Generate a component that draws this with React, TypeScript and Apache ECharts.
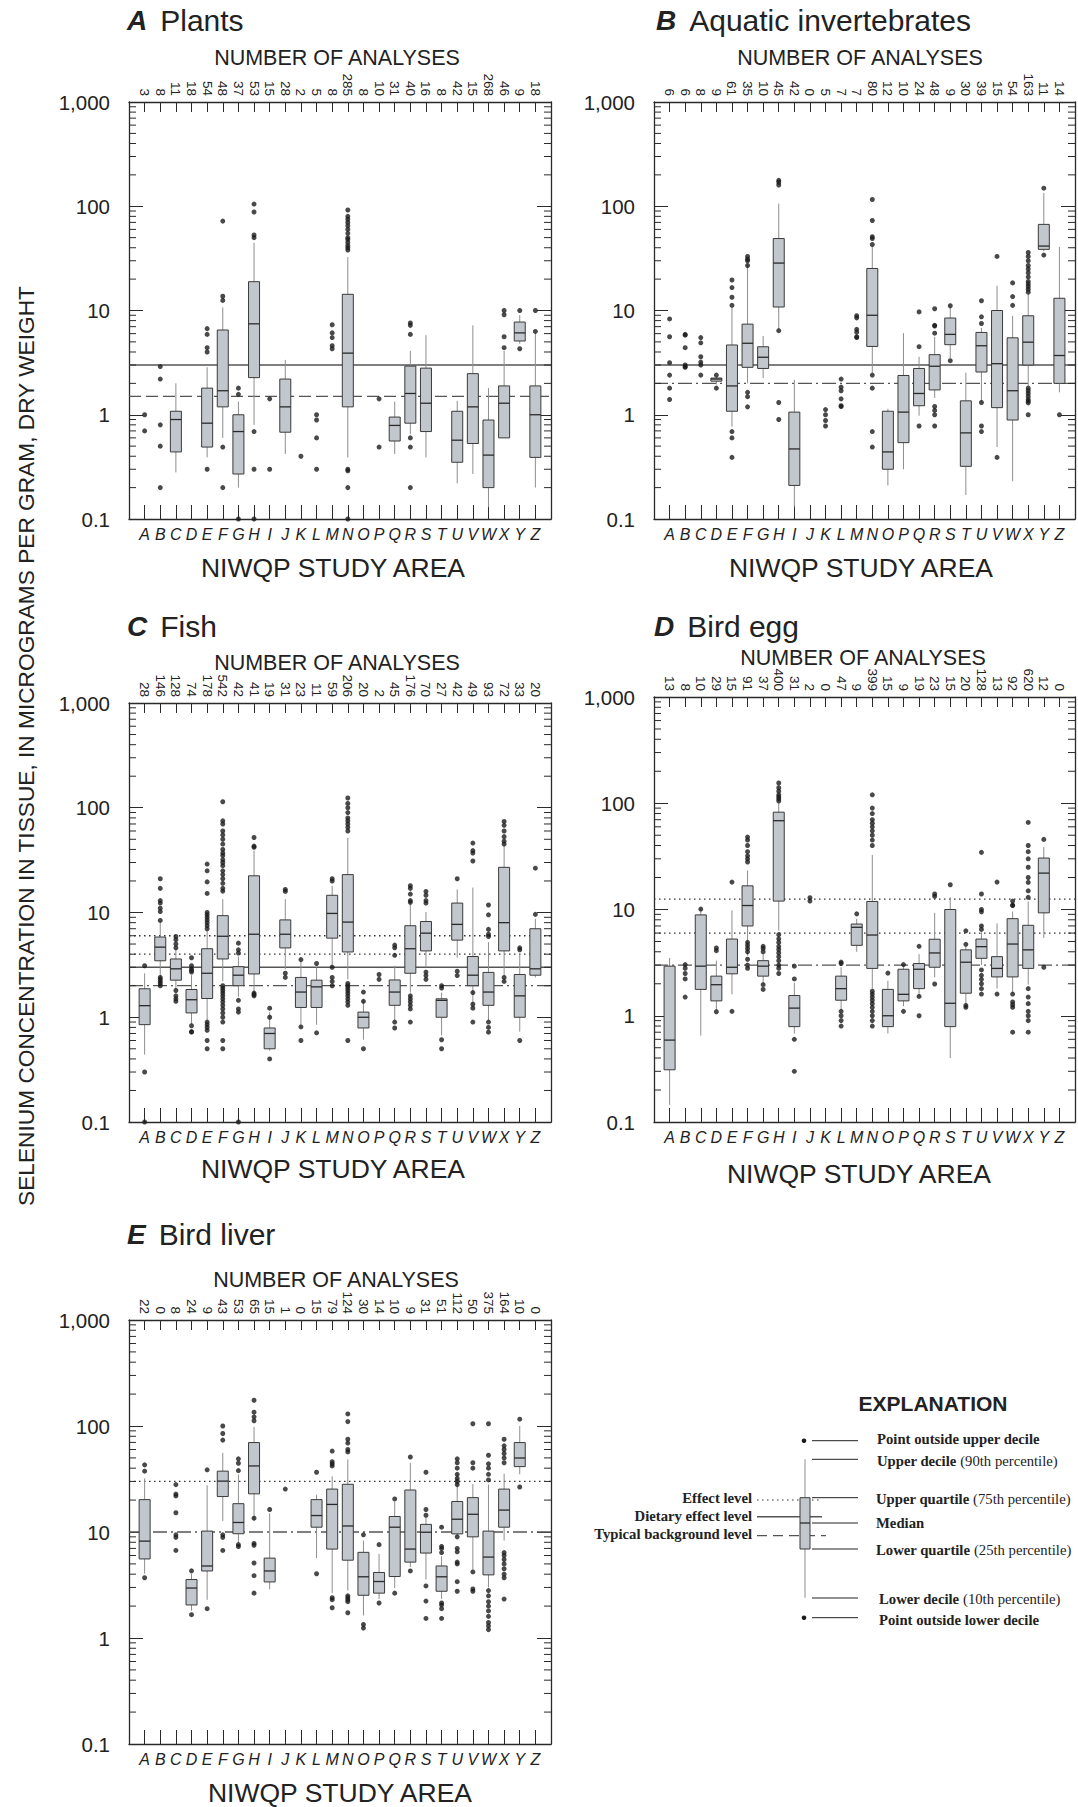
import React, { useEffect, useRef } from "react";
import * as echarts from "echarts";

// ---------------- DATA ----------------
const areaLetters = ["A","B","C","D","E","F","G","H","I","J","K","L","M","N","O","P","Q","R","S","T","U","V","W","X","Y","Z"];
const yTickLabels = ["0.1", "1", "10", "100", "1,000"];
const minorTickValues = [0.2,0.3,0.4,0.5,0.6,0.7,0.8,0.9,2,3,4,5,6,7,8,9,20,30,40,50,60,70,80,90,200,300,400,500,600,700,800,900];

// box = [lower decile, lower quartile, median, upper quartile, upper decile]
const plantsCounts = [3, 8, 11, 18, 54, 48, 37, 53, 15, 28, 2, 5, 8, 285, 8, 10, 31, 40, 16, 8, 42, 15, 268, 46, 9, 18];
const plantsBoxes = [
  null, null, [0.28, 0.44, 0.9, 1.08, 2.0], null, [0.39, 0.49, 0.83, 1.8, 2.86],
  [0.6, 1.19, 1.7, 6.5, 10.7], [0.2, 0.27, 0.69, 1.0, 1.34], [0.8, 2.27, 7.45, 18.9, 44.7], null, [0.42, 0.68, 1.19, 2.2, 3.36],
  null, null, null, [0.39, 1.19, 3.9, 14.3, 32.5], null,
  null, [0.42, 0.56, 0.79, 0.95, 1.34], [0.65, 0.83, 1.6, 2.93, 4.1], [0.39, 0.69, 1.29, 2.8, 5.8], null,
  [0.22, 0.35, 0.57, 1.08, 1.36], [0.27, 0.53, 1.19, 2.48, 7.2], [0.13, 0.2, 0.41, 0.89, 1.8], [0.6, 0.6, 1.29, 1.89, 4.1], [4.8, 5.1, 6.1, 7.75, 9.0],
  [0.2, 0.39, 1.0, 1.89, 6.1]
];
const plantsOutliers = [
  [1.0, 0.7], [2.9, 2.2, 0.8, 0.5, 0.2], [], [], [6.7, 5.9, 4.4, 4.0, 0.3],
  [72, 13.7, 12.5, 0.49, 0.2], [1.8, 1.57, 0.1], [105, 88, 53, 50, 0.69, 0.3, 0.1], [1.42, 0.3], [],
  [0.4], [1.0, 0.89, 0.6, 0.3], [7.3, 6.1, 5.5, 4.6, 4.3],
  [92, 80, 75, 70, 65, 60, 55, 50, 48, 45, 42, 40, 38, 0.3, 0.29, 0.2, 0.1], [],
  [1.42, 0.49], [], [7.6, 7.2, 5.9, 0.6, 0.49, 0.2], [], [],
  [], [], [], [10, 9.1, 5.6, 4.4], [10, 4.3], [10, 6.3]
];
const plantsLevels = [3, 1.5];
const plantsLevelTypes = ["solid", "longdash"];

const invertCounts = [6, 6, 8, 9, 61, 35, 10, 45, 42, 0, 5, 7, 7, 80, 12, 10, 24, 48, 9, 30, 39, 15, 54, 163, 11, 14];
const invertBoxes = [
  null, null, null, [1.95, 2.1, 2.2, 2.25, 2.3], [0.77, 1.08, 1.89, 4.67, 10.6],
  [2.0, 2.85, 4.85, 7.4, 27.4], [2.25, 2.78, 3.56, 4.49, 5.7], [6.6, 10.8, 28.5, 49, 106], [0.13, 0.21, 0.47, 1.06, 2.16], null,
  null, null, null, [2.53, 4.52, 9.0, 25.3, 40.8], [0.21, 0.3, 0.44, 1.08, 1.14],
  [0.3, 0.54, 1.06, 2.38, 6.06], [0.98, 1.22, 1.6, 2.78, 3.6], [1.45, 1.73, 2.92, 3.77, 5.6], [3.5, 4.7, 5.9, 8.47, 10.6], [0.17, 0.32, 0.67, 1.36, 2.53],
  [1.34, 2.57, 4.59, 6.16, 6.8], [0.49, 1.17, 3.09, 10, 17.3], [0.23, 0.89, 1.7, 5.47, 8.9], [1.9, 3.0, 4.97, 8.9, 14.5], [37, 38.6, 41.5, 67, 134],
  [1.64, 2.0, 3.7, 13.1, 40.8]
];
const invertOutliers = [
  [8.3, 5.6, 3.16, 2.4, 1.8, 1.4], [5.9, 5.8, 4.4, 3.0, 2.9, 2.85], [5.5, 4.9, 3.6, 3.2, 3.0, 2.4], [2.4, 1.8], [19.6, 16.6, 13.4, 11.2, 0.69, 0.6, 0.39],
  [33, 31, 30, 27, 1.64, 1.49, 1.19], [], [177, 170, 160, 6.4, 1.31, 0.9], [], [],
  [1.12, 1.0, 0.88, 0.78], [2.2, 1.84, 1.7, 1.42, 1.22, 1.2], [8.9, 8.5, 6.6, 6.2, 5.6, 5.5], [116, 73, 51, 49, 43, 2.4, 1.8, 0.69, 0.49], [],
  [], [9.7, 4.5, 0.78], [10.4, 7.2, 7.1, 6.06, 1.2, 1.1, 1.0, 0.78], [11.1, 3.3], [],
  [12.4, 8.7, 7.5, 1.31, 0.78, 0.69], [33, 0.39], [18.4, 13.6, 11.2],
  [36, 33, 30, 27, 25, 23, 21, 19, 18, 17, 16, 15, 1.8, 1.7, 1.6, 1.5, 1.4, 1.35, 1.3, 1.0], [149, 34], [1.0]
];
const invertLevels = [3, 2];
const invertLevelTypes = ["solid", "dashed"];

const fishCounts = [28, 146, 128, 74, 178, 542, 42, 41, 19, 31, 23, 11, 59, 206, 20, 2, 45, 176, 70, 27, 42, 49, 93, 72, 33, 20];
const fishBoxes = [
  [0.44, 0.85, 1.29, 1.87, 2.63], [2.4, 3.46, 4.67, 5.83, 8.1], [1.87, 2.26, 2.9, 3.6, 4.4], [0.86, 1.1, 1.47, 1.84, 2.52], [0.94, 1.51, 2.63, 4.51, 6.7],
  [2.2, 3.6, 5.93, 9.33, 13.4], [1.57, 2.0, 2.52, 3.04, 3.8], [1.72, 2.59, 6.2, 22.4, 39], [0.48, 0.5, 0.7, 0.79, 1.12], [2.87, 4.59, 6.2, 8.5, 13.4],
  [0.86, 1.24, 1.74, 2.4, 3.4], [0.85, 1.24, 1.95, 2.26, 2.99], [3.1, 5.69, 9.8, 14.6, 18], [2.3, 4.2, 8.1, 23, 51.5], [0.61, 0.79, 1.0, 1.12, 1.5],
  null, [0.94, 1.3, 1.74, 2.27, 3.1], [1.72, 2.63, 4.51, 7.48, 12.3], [3.0, 4.3, 6.35, 8.2, 10.1], [0.67, 1.0, 1.45, 1.5, 1.72],
  [3.7, 5.45, 7.7, 12.3, 16.6], [1.33, 2.0, 2.52, 3.8, 17.3], [0.93, 1.3, 1.74, 2.68, 5.2], [2.52, 4.3, 8.0, 27, 43.6], [0.73, 1.0, 1.6, 2.56, 4.0],
  [2.4, 2.52, 2.9, 7.0, 8.7]
];
const fishOutliers = [
  [3.1, 0.3, 0.1], [21, 17, 13, 12.3, 11, 10.2, 8.4, 2.4, 2.3, 2.2, 2.1, 2.0], [5.9, 5.5, 5.0, 4.6, 1.8, 1.6, 1.5, 1.42], [3.7, 3.1, 2.9, 2.8, 2.7, 0.83, 0.73, 0.72],
  [29, 25, 19.6, 15.2, 10, 9.5, 9, 8.5, 8, 7.5, 7, 0.9, 0.85, 0.8, 0.75, 0.6, 0.5],
  [114, 75, 70, 60, 55, 50, 45, 40, 37, 35, 32, 30, 28, 25, 23, 21, 19, 17, 16, 2.0, 1.9, 1.8, 1.7, 1.6, 1.5, 1.4, 1.3, 1.2, 1.1, 1.0, 0.9, 0.6, 0.5],
  [5.1, 4.4, 4.1, 1.45, 1.2, 1.12, 0.1], [52, 43, 42, 1.7, 1.65, 1.6], [1.22, 1.0, 0.4], [16.6, 15.9, 2.63, 2.4],
  [3.55, 0.81, 0.6], [3.26, 0.71], [21, 20, 3.0, 2.4, 2.2, 2.0],
  [124, 110, 100, 90, 80, 75, 70, 65, 60, 2.1, 2.0, 1.9, 1.8, 1.7, 1.6, 1.5, 1.4, 1.3, 0.6], [1.74, 1.42, 0.5],
  [2.56, 2.3], [4.88, 4.6, 3.9, 0.9, 0.79], [18, 17, 15, 13, 12.5, 1.6, 1.5, 1.4, 1.3, 1.2, 0.9], [15.9, 14.6, 13, 12.3, 2.7, 2.5, 2.3], [2.0, 1.9, 0.61, 0.5],
  [21, 2.75, 2.5], [46, 39, 37, 31, 1.72, 1.33, 1.22, 0.9], [11.8, 9.5, 6.9, 6.2, 5.9, 0.9, 0.8, 0.72], [74, 68, 60, 53, 48, 45, 2.4, 2.2], [4.6, 4.4, 0.6],
  [26.5, 9.6]
];
const fishLevels = [6, 4, 3, 2];
const fishLevelTypes = ["dotted", "dotted", "solid", "dashed"];

const eggCounts = [13, 8, 10, 29, 15, 91, 37, 400, 31, 2, 0, 47, 9, 399, 15, 9, 19, 23, 15, 20, 128, 13, 92, 620, 12, 0];
const eggBoxes = [
  [0.145, 0.31, 0.59, 2.93, 3.5], null, [0.65, 1.77, 2.93, 8.9, 10.1], [1.13, 1.38, 1.96, 2.36, 3.3], [1.59, 2.48, 2.86, 5.27, 9.8],
  [3.68, 7.0, 10.9, 16.7, 23.3], [2.0, 2.36, 2.93, 3.3, 3.8], [6.35, 12.0, 68.5, 82.4, 100], [0.68, 0.79, 1.18, 1.55, 2.04], null,
  null, [1.13, 1.4, 1.8, 2.36, 2.86], [4.0, 4.6, 6.8, 7.3, 8.2], [1.8, 2.79, 5.75, 11.9, 32.6], [0.68, 0.79, 1.0, 1.77, 2.13],
  [1.23, 1.38, 1.59, 2.74, 3.0], [1.52, 1.8, 2.74, 3.1, 3.8], [2.3, 2.86, 3.9, 5.25, 9.3], [0.4, 0.79, 1.31, 10, 13], [1.27, 1.63, 3.19, 4.17, 4.5],
  [3.0, 3.47, 4.47, 5.27, 6.1], [1.8, 2.32, 2.79, 3.6, 7.4], [1.65, 2.32, 4.73, 8.2, 9.6], [1.96, 2.79, 4.17, 7.1, 11.9], [5.4, 9.3, 22, 30.5, 38.7],
  null
];
const eggOutliers = [
  [], [3.03, 2.8, 2.5, 2.22, 1.5], [10.1], [4.35, 4.1, 1.09], [18.1, 1.1],
  [48, 45, 40, 35, 32, 30, 28, 4.9, 4.6, 4.3, 4.0, 3.4, 3.0, 2.8], [4.5, 4.3, 4.0, 1.96, 1.77],
  [155, 140, 130, 120, 115, 110, 105, 5.8, 5.3, 4.9, 4.5, 4.2, 3.9, 3.6, 3.3, 3.0, 2.8, 2.5], [2.93, 2.22, 0.6, 0.3], [12.9, 12.0],
  [], [3.2, 3.1, 1.1, 1.0, 0.9, 0.8], [9.1],
  [120, 90, 80, 70, 65, 60, 55, 50, 45, 40, 1.7, 1.6, 1.5, 1.4, 1.3, 1.2, 1.1, 1.0, 0.9, 0.8], [2.52],
  [3.03, 1.1], [4.5, 1.52, 1.0], [14, 13.3, 1.99], [17.1], [6.3, 4.7, 1.25, 1.2],
  [34.5, 14, 10, 9.5, 7, 6.5, 2.7, 2.4, 2.2, 2.0, 1.8, 1.6], [18.1, 1.6], [12, 11, 10.9, 1.6, 1.35, 1.27, 1.2, 0.7],
  [66, 40, 35, 30, 25, 20, 18, 15, 13, 1.8, 1.5, 1.3, 1.1, 1.0, 0.9, 0.7], [45.7, 2.86], []
];
const eggLevels = [12.5, 6, 3];
const eggLevelTypes = ["dotted", "dotted", "dashed"];

const liverCounts = [22, 0, 8, 24, 9, 43, 53, 65, 15, 1, 0, 15, 79, 124, 30, 14, 10, 9, 31, 51, 112, 50, 375, 164, 10, 0];
const liverBoxes = [
  [4.04, 5.57, 8.2, 20.2, 32], null, null, [1.81, 2.05, 2.96, 3.56, 4.04], [2.29, 4.29, 4.78, 10.2, 27.6],
  [12.7, 21.6, 30.2, 37.5, 55.7], [7.9, 9.63, 12.3, 18.5, 34.9], [12.7, 22.9, 42, 69.8, 98], [2.88, 3.38, 4.29, 5.67, 15], null,
  null, [5.67, 11.1, 14.3, 20.2, 22.5], [2.65, 6.9, 18.2, 25.4, 33.5], [2.8, 5.42, 11.4, 28.2, 48.3], [1.63, 2.53, 3.78, 6.43, 8.3],
  [2.33, 2.65, 3.41, 4.15, 6.2], [2.96, 3.8, 11.1, 14.0, 19.4], [4.67, 5.2, 6.9, 24.9, 45], [3.56, 6.33, 9.95, 11.8, 13.7], [2.33, 2.76, 3.78, 4.78, 5.9],
  [9.2, 9.6, 13.2, 19.4, 35], [4.4, 9.0, 14.7, 21.1, 28.3], [3.0, 3.94, 5.8, 10.2, 28], [8.3, 11.1, 16.1, 25.4, 35.5], [35, 41.4, 49.9, 69.8, 100],
  null
];
const liverOutliers = [
  [43, 37.5, 3.7], [], [28, 22.8, 21.9, 15.2, 9.4, 8.9, 6.7], [4.3, 1.66], [38.6, 1.89],
  [100, 85, 73.6, 9.4, 8.9, 6.7], [49, 44.5, 38, 7.6, 7.3], [175, 135, 122, 112, 13.5, 7.8, 7.5, 5.1, 3.87, 2.65], [16.3], [25.4],
  [], [36.6, 4.04], [58, 46, 44, 42, 2.4, 2.3, 1.93], [130, 110, 75, 69, 60, 57, 2.5, 2.4, 2.3, 2.2, 1.73], [9.4, 1.34, 1.24],
  [7.6, 2.14], [20.5, 2.65], [51, 4.29], [36.6, 16.3, 14.4, 3.1, 2.23, 1.53], [11.1, 7.3, 7.0, 6.4, 2.14, 2.05, 1.89, 1.53],
  [49, 45, 40, 35, 32, 30, 28, 9.0, 7.0, 6.5, 5.2, 5.0, 3.4, 2.76], [105, 45, 40, 4.2, 2.9, 2.76],
  [105, 53, 44, 40, 35, 31, 2.8, 2.5, 2.2, 2.0, 1.8, 1.6, 1.4, 1.3, 1.2], [75, 65, 60, 55, 50, 45, 6.4, 6.0, 5.5, 5.0, 4.5, 4.0, 3.7, 2.33],
  [116, 26.6], []
];
const liverLevels = [30, 10];
const liverLevelTypes = ["dotted", "dashed"];

// ---------------- LAYOUT ----------------
const SANS = '"Liberation Sans", Arial, Helvetica, sans-serif';
const SERIF = '"Liberation Serif", "Times New Roman", serif';
const INK = "#222";

const panels = [
  { letter: "A", name: "Plants", counts: plantsCounts, boxes: plantsBoxes, outliers: plantsOutliers, levels: plantsLevels, types: plantsLevelTypes,
    left: 129, top: 102, w: 422, h: 417, tx: 127, ty: 20, ny: 58, nx: 337, sy: 568, sx: 333 },
  { letter: "B", name: "Aquatic invertebrates", counts: invertCounts, boxes: invertBoxes, outliers: invertOutliers, levels: invertLevels, types: invertLevelTypes,
    left: 654, top: 102, w: 422, h: 417, tx: 656, ty: 20, ny: 58, nx: 860, sy: 568, sx: 861 },
  { letter: "C", name: "Fish", counts: fishCounts, boxes: fishBoxes, outliers: fishOutliers, levels: fishLevels, types: fishLevelTypes,
    left: 129, top: 703, w: 422, h: 419, tx: 127, ty: 626, ny: 663, nx: 337, sy: 1169, sx: 333 },
  { letter: "D", name: "Bird egg", counts: eggCounts, boxes: eggBoxes, outliers: eggOutliers, levels: eggLevels, types: eggLevelTypes,
    left: 654, top: 697, w: 422, h: 425, tx: 654, ty: 626, ny: 658, nx: 863, sy: 1174, sx: 859 },
  { letter: "E", name: "Bird liver", counts: liverCounts, boxes: liverBoxes, outliers: liverOutliers, levels: liverLevels, types: liverLevelTypes,
    left: 129, top: 1320, w: 422, h: 424, tx: 127, ty: 1234, ny: 1280, nx: 336, sy: 1793, sx: 340 },
];

function txt(text: string, x: number, y: number, font: string, align = "left", vAlign = "middle", extra: any = {}) {
  return {
    type: "text", x, y, silent: true, z: 20, ...extra,
    style: { text, font, fill: INK, textAlign: align, textVerticalAlign: vAlign, align, verticalAlign: vAlign, ...(extra.style || {}) },
  };
}

function buildOption() {
  const grid: any[] = [];
  const xAxis: any[] = [];
  const yAxis: any[] = [];
  const series: any[] = [];
  const graphic: any[] = [];
  const axisLine = { show: true, lineStyle: { color: "#2a2a2a", width: 1.3 } };

  panels.forEach((p, i) => {
    grid.push({ left: p.left, top: p.top, width: p.w, height: p.h, show: false });
    xAxis.push({
      type: "category", gridIndex: i, position: "bottom", boundaryGap: false,
      data: ["", ...areaLetters, ""],
      axisLine, axisTick: { show: true, inside: true, length: 14, lineStyle: { color: "#2a2a2a" } },
      axisLabel: { interval: 0, fontStyle: "italic", fontSize: 16, color: INK, fontFamily: SANS, margin: 7 },
      splitLine: { show: false },
    });
    xAxis.push({
      type: "category", gridIndex: i, position: "top", boundaryGap: false,
      data: ["", ...p.counts.map(String), ""],
      axisLine, axisTick: { show: true, inside: true, length: 10, lineStyle: { color: "#2a2a2a" } },
      axisLabel: { interval: 0, rotate: 90, fontSize: 13.5, color: INK, fontFamily: SANS, margin: 6 },
      splitLine: { show: false },
    });
    const yBase = {
      type: "log", logBase: 10, min: 0.1, max: 1000, gridIndex: i,
      axisLine, axisTick: { show: true, inside: true, length: 14, lineStyle: { color: "#2a2a2a" } },
      splitLine: { show: false },
    };
    yAxis.push({
      ...yBase, position: "left",
      axisLabel: {
        fontSize: 20.5, color: INK, fontFamily: SANS, margin: 19,
        formatter: (v: number) => yTickLabels[Math.round(Math.log10(v)) + 1],
      },
    });
    yAxis.push({ ...yBase, position: "right", axisLabel: { show: false } });

    const ax = { xAxisIndex: 2 * i, yAxisIndex: 2 * i };
    const types = p.types;

    // reference levels
    series.push({
      type: "custom", ...ax, z: 1, silent: true, clip: false,
      data: p.levels.map((v, j) => [0, v, j]),
      encode: { x: 0, y: 1 },
      renderItem: (params: any, api: any) => {
        const cs = params.coordSys;
        const y = api.coord([0, api.value(1)])[1];
        const t = types[api.value(2)];
        const style: any = { stroke: t === "dotted" ? "#333" : "#555", lineWidth: t === "solid" ? 1.4 : 1.3, fill: null };
        if (t === "dotted") style.lineDash = [1.5, 3.5];
        if (t === "dashed") style.lineDash = [14, 4, 2, 4];
        if (t === "longdash") style.lineDash = [12, 5];
        return { type: "line", shape: { x1: cs.x, y1: y, x2: cs.x + cs.width, y2: y }, style };
      },
    });

    // boxes
    const boxData: any[] = [];
    p.boxes.forEach((b: any, k: number) => { if (b) boxData.push([k + 1, ...b]); });
    series.push({
      type: "custom", ...ax, z: 2, silent: true, clip: false,
      data: boxData,
      encode: { x: 0, y: [1, 2, 3, 4, 5] },
      renderItem: (params: any, api: any) => {
        const c = api.value(0);
        const x = api.coord([c, 1])[0];
        const lo = api.coord([c, api.value(1)])[1];
        const q1 = api.coord([c, api.value(2)])[1];
        const md = api.coord([c, api.value(3)])[1];
        const q3 = api.coord([c, api.value(4)])[1];
        const hi = api.coord([c, api.value(5)])[1];
        const w = 11;
        return {
          type: "group",
          children: [
            { type: "line", shape: { x1: x, y1: lo, x2: x, y2: hi }, style: { stroke: "#8e8e8e", lineWidth: 1 } },
            { type: "rect", shape: { x: x - w / 2, y: q3, width: w, height: Math.max(q1 - q3, 1.5) },
              style: { fill: "#c2c7cd", stroke: "#3a3a3a", lineWidth: 1 } },
            { type: "line", shape: { x1: x - w / 2, y1: md, x2: x + w / 2, y2: md }, style: { stroke: "#2a2a2a", lineWidth: 1.3 } },
          ],
        };
      },
    });

    // points outside deciles
    const pts: any[] = [];
    p.outliers.forEach((arr: number[], k: number) => arr.forEach((v) => pts.push([k + 1, v])));
    series.push({
      type: "scatter", ...ax, z: 3, silent: true, clip: false,
      symbol: "circle", symbolSize: 5,
      itemStyle: { color: "#1c1c1c" },
      data: pts,
    });

    // minor log ticks on both sides
    series.push({
      type: "custom", ...ax, z: 4, silent: true, clip: false,
      data: minorTickValues.map((v) => [0, v]),
      encode: { x: 0, y: 1 },
      renderItem: (params: any, api: any) => {
        const cs = params.coordSys;
        const y = api.coord([0, api.value(1)])[1];
        const L = 7;
        const st = { stroke: "#2a2a2a", lineWidth: 1 };
        return {
          type: "group",
          children: [
            { type: "line", shape: { x1: cs.x, y1: y, x2: cs.x + L, y2: y }, style: st },
            { type: "line", shape: { x1: cs.x + cs.width - L, y1: y, x2: cs.x + cs.width, y2: y }, style: st },
          ],
        };
      },
    });

    // texts
    graphic.push({
      type: "text", x: p.tx, y: p.ty, silent: true, z: 20,
      style: {
        text: `{b|${p.letter}}{g| }{n|${p.name}}`, font: `30px ${SANS}`, fill: INK,
        textVerticalAlign: "middle", verticalAlign: "middle",
        rich: {
          b: { font: `italic bold 28px ${SANS}`, fill: INK },
          g: { font: `30px ${SANS}`, width: 13 },
          n: { font: `30px ${SANS}`, fill: INK },
        },
      },
    });
    graphic.push(txt("NUMBER OF ANALYSES", p.nx, p.ny, `21.5px ${SANS}`, "center"));
    graphic.push(txt("NIWQP STUDY AREA", p.sx, p.sy, `26.5px ${SANS}`, "center"));
  });

  // y-axis title
  graphic.push({
    type: "text", x: 26, y: 746, rotation: Math.PI / 2, silent: true, z: 20,
    style: {
      text: "SELENIUM CONCENTRATION IN TISSUE, IN MICROGRAMS PER GRAM, DRY WEIGHT",
      font: `22.7px ${SANS}`, fill: INK, textAlign: "center", align: "center", textVerticalAlign: "middle", verticalAlign: "middle",
    },
  });

  // explanation
  const B = `bold 14.7px ${SERIF}`;
  const richLbl = { b: { font: B, fill: INK }, n: { font: `14.7px ${SERIF}`, fill: INK } };
  graphic.push(txt("EXPLANATION", 933, 1403, `bold 21px ${SANS}`, "center"));
  const lead = (y: number) => ({ type: "line", silent: true, z: 20, shape: { x1: 812, y1: y, x2: 858, y2: y }, style: { stroke: "#222", lineWidth: 1 } });
  [1440.7, 1459.3, 1497.7, 1523, 1549, 1598, 1617.7].forEach((y) => graphic.push(lead(y)));
  graphic.push({ type: "line", silent: true, z: 19, shape: { x1: 757, y1: 1500, x2: 822, y2: 1500 }, style: { stroke: "#333", lineWidth: 1.2, lineDash: [1.5, 3.5] } });
  graphic.push({ type: "line", silent: true, z: 19, shape: { x1: 757, y1: 1516.7, x2: 822, y2: 1516.7 }, style: { stroke: "#555", lineWidth: 1.4 } });
  graphic.push({ type: "line", silent: true, z: 19, shape: { x1: 757, y1: 1535.7, x2: 826, y2: 1535.7 }, style: { stroke: "#555", lineWidth: 1.3, lineDash: [10, 6] } });
  graphic.push({ type: "line", silent: true, z: 21, shape: { x1: 805, y1: 1459.3, x2: 805, y2: 1597.7 }, style: { stroke: "#8e8e8e", lineWidth: 1 } });
  graphic.push({ type: "rect", silent: true, z: 22, shape: { x: 800, y: 1497.7, width: 10, height: 51.3 }, style: { fill: "#c2c7cd", stroke: "#3a3a3a", lineWidth: 1 } });
  graphic.push({ type: "line", silent: true, z: 23, shape: { x1: 800, y1: 1523, x2: 810, y2: 1523 }, style: { stroke: "#2a2a2a", lineWidth: 1.3 } });
  graphic.push({ type: "circle", silent: true, z: 22, shape: { cx: 804, cy: 1440.7, r: 2.3 }, style: { fill: "#1c1c1c" } });
  graphic.push({ type: "circle", silent: true, z: 22, shape: { cx: 804, cy: 1617.7, r: 2.3 }, style: { fill: "#1c1c1c" } });

  const rlab = (t: string, x: number, y: number) => ({
    type: "text", x, y, silent: true, z: 20,
    style: { text: t, font: B, fill: INK, textVerticalAlign: "middle", verticalAlign: "middle", rich: richLbl },
  });
  graphic.push(rlab("{b|Point outside upper decile}", 877, 1439));
  graphic.push(rlab("{b|Upper decile} {n|(90th percentile)}", 877, 1461));
  graphic.push(rlab("{b|Upper quartile} {n|(75th percentile)}", 876, 1498.5));
  graphic.push(rlab("{b|Median}", 876, 1523));
  graphic.push(rlab("{b|Lower quartile} {n|(25th percentile)}", 876, 1549.5));
  graphic.push(rlab("{b|Lower decile} {n|(10th percentile)}", 879, 1599));
  graphic.push(rlab("{b|Point outside lower decile}", 879, 1620));
  graphic.push(txt("Effect level", 752, 1498, B, "right"));
  graphic.push(txt("Dietary effect level", 752, 1515.7, B, "right"));
  graphic.push(txt("Typical background level", 752, 1533.5, B, "right"));

  return {
    animation: false,
    backgroundColor: "#ffffff",
    textStyle: { fontFamily: SANS },
    grid, xAxis, yAxis, series, graphic,
  };
}

export default function App() {
  const ref = useRef<HTMLDivElement>(null);
  useEffect(() => {
    document.body.style.margin = "0";
    if (!ref.current) return;
    const chart = echarts.init(ref.current, undefined, { renderer: "svg" });
    chart.setOption(buildOption() as any);
    return () => chart.dispose();
  }, []);
  return <div ref={ref} style={{ width: 1078, height: 1807, background: "#fff" }} />;
}
